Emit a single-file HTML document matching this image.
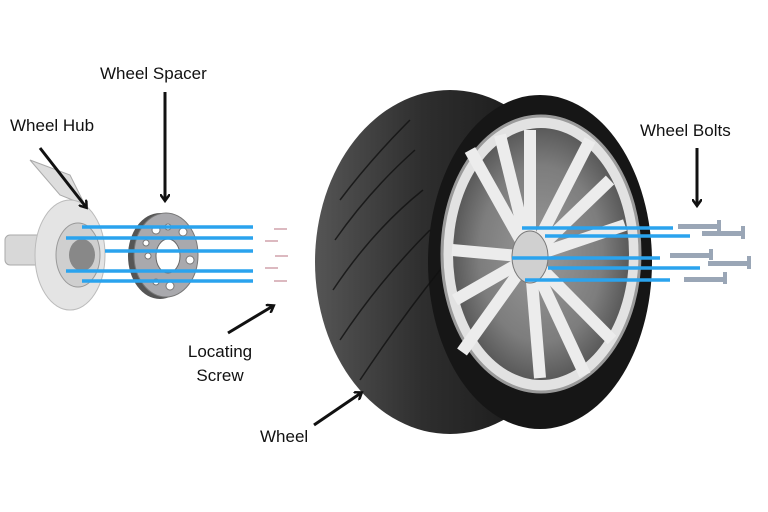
<!DOCTYPE html>
<html><head><style>
html,body{margin:0;padding:0;background:#fff;}
svg{display:block;}
text{font-family:"Liberation Sans",sans-serif;font-size:17px;fill:#111;}
</style></head><body>
<svg width="768" height="512" viewBox="0 0 768 512">
<defs>
<marker id="ah" markerWidth="10" markerHeight="10" refX="6" refY="5" orient="auto" markerUnits="userSpaceOnUse">
<path d="M0,0 L7,5 L0,10" fill="none" stroke="#111" stroke-width="2.5"/>
</marker>
<radialGradient id="rim" cx="0.5" cy="0.5" r="0.5">
<stop offset="0" stop-color="#9a9a9a"/><stop offset="0.7" stop-color="#7d7d7d"/><stop offset="1" stop-color="#5a5a5a"/>
</radialGradient>
<linearGradient id="tread" x1="0" x2="1"><stop offset="0" stop-color="#555"/><stop offset="0.4" stop-color="#2e2e2e"/><stop offset="1" stop-color="#111"/></linearGradient>
</defs>
<!-- hub -->
<g>
<path d="M30,160 L60,195 L85,205 L70,175 Z" fill="#ddd" stroke="#aaa"/>
<rect x="5" y="235" width="40" height="30" rx="5" fill="#d8d8d8" stroke="#aaa"/>
<ellipse cx="70" cy="255" rx="35" ry="55" fill="#e4e4e4" stroke="#bbb"/>
<ellipse cx="78" cy="255" rx="22" ry="32" fill="#cfcfcf" stroke="#999"/>
<ellipse cx="82" cy="255" rx="13" ry="16" fill="#888"/>
</g>
<!-- spacer -->
<ellipse cx="160" cy="256" rx="32" ry="43" fill="#555"/>
<ellipse cx="166" cy="255" rx="32" ry="42" fill="#a9a9ad" stroke="#777"/>
<ellipse cx="168" cy="256" rx="12" ry="17" fill="#fff" stroke="#666"/>
<g fill="#fff" stroke="#777">
<circle cx="156" cy="230" r="4"/><circle cx="183" cy="232" r="4"/><circle cx="148" cy="256" r="3"/><circle cx="190" cy="260" r="4"/><circle cx="156" cy="282" r="3"/><circle cx="170" cy="286" r="4"/><circle cx="168" cy="227" r="3"/><circle cx="146" cy="243" r="3"/>
</g>
<!-- left blue lines -->
<g stroke="#2aa3ee" stroke-width="3.5">
<line x1="82" y1="227" x2="253" y2="227"/><line x1="66" y1="238" x2="253" y2="238"/><line x1="105" y1="251" x2="253" y2="251"/><line x1="66" y1="271" x2="253" y2="271"/><line x1="82" y1="281" x2="253" y2="281"/>
</g>
<!-- screws -->
<g stroke="#c48a95" stroke-width="1.2">
<line x1="274" y1="229" x2="287" y2="229"/><line x1="265" y1="241" x2="278" y2="241"/><line x1="275" y1="256" x2="288" y2="256"/><line x1="265" y1="268" x2="278" y2="268"/><line x1="274" y1="281" x2="287" y2="281"/>
</g>
<!-- tire -->
<ellipse cx="450" cy="262" rx="135" ry="172" fill="url(#tread)"/>
<ellipse cx="540" cy="262" rx="112" ry="167" fill="#161616"/>
<ellipse cx="541" cy="254" rx="99" ry="138" fill="#e2e2e2" stroke="#9a9a9a" stroke-width="3"/>
<ellipse cx="541" cy="254" rx="88" ry="126" fill="url(#rim)"/>
<g stroke="#ececec" stroke-width="12" fill="none">
<path d="M530,257 L470,150"/><path d="M530,257 L590,140"/><path d="M530,257 L625,225"/><path d="M530,257 L612,340"/><path d="M530,257 L540,378"/><path d="M530,257 L462,352"/><path d="M530,257 L452,250"/><path d="M530,257 L530,130"/>
<path d="M530,257 L500,135"/><path d="M530,257 L610,180"/><path d="M530,257 L585,375"/><path d="M530,257 L455,300"/>
</g>
<ellipse cx="530" cy="257" rx="18" ry="26" fill="#d0d0d0" stroke="#777"/>
<g stroke="#111" stroke-width="1.5" fill="none" opacity="0.8">
<path d="M340,200 q30,-40 70,-80"/><path d="M335,240 q35,-50 80,-90"/><path d="M333,290 q40,-60 90,-100"/><path d="M340,340 q40,-60 90,-110"/><path d="M360,380 q40,-60 80,-110"/>
</g>
<!-- right blue lines -->
<g stroke="#2aa3ee" stroke-width="3.5">
<line x1="522" y1="228" x2="673" y2="228"/><line x1="545" y1="236" x2="690" y2="236"/><line x1="512" y1="258" x2="660" y2="258"/><line x1="548" y1="268" x2="700" y2="268"/><line x1="525" y1="280" x2="670" y2="280"/>
</g>
<!-- bolts -->
<g fill="#9aa6b6">
<rect x="678" y="224" width="40" height="5"/><rect x="717" y="220" width="4" height="11"/>
<rect x="702" y="231" width="40" height="5"/><rect x="741" y="226" width="4" height="13"/>
<rect x="670" y="253" width="40" height="5"/><rect x="709" y="249" width="4" height="11"/>
<rect x="708" y="261" width="40" height="5"/><rect x="747" y="256" width="4" height="13"/>
<rect x="684" y="277" width="40" height="5"/><rect x="723" y="272" width="4" height="12"/>
</g>
<!-- arrows -->
<g stroke="#111" stroke-width="3" fill="none">
<line x1="165" y1="92" x2="165" y2="200" marker-end="url(#ah)"/>
<line x1="40" y1="148" x2="86" y2="207" marker-end="url(#ah)"/>
<line x1="697" y1="148" x2="697" y2="205" marker-end="url(#ah)"/>
<line x1="228" y1="333" x2="273" y2="306" marker-end="url(#ah)"/>
<line x1="314" y1="425" x2="361" y2="393" marker-end="url(#ah)"/>
</g>
<text x="100" y="79">Wheel Spacer</text>
<text x="10" y="131">Wheel Hub</text>
<text x="640" y="136">Wheel Bolts</text>
<text x="220" y="357" text-anchor="middle">Locating</text>
<text x="220" y="381" text-anchor="middle">Screw</text>
<text x="260" y="442">Wheel</text>
</svg>
</body></html>
